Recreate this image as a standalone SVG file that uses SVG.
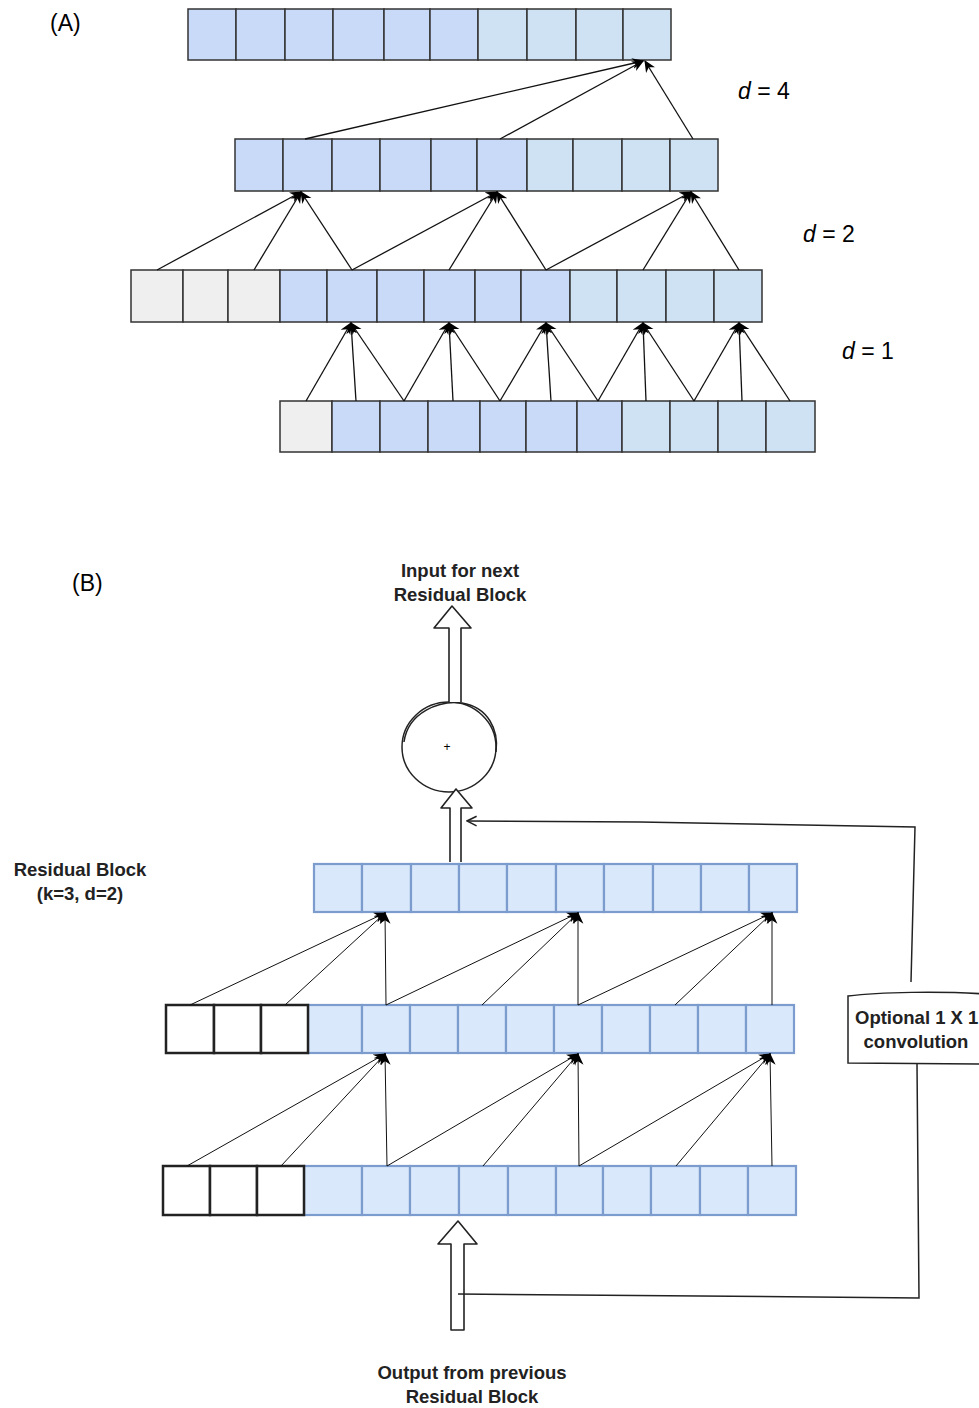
<svg xmlns="http://www.w3.org/2000/svg" width="979" height="1408" viewBox="0 0 979 1408">
<style>
.t{font-family:"Liberation Sans",Arial,sans-serif;fill:#000}
.lbl{font-size:23px}
.b{font-size:18.5px;font-weight:bold;fill:#222}
.dk{fill:#c9daf8;stroke:#333;stroke-width:1.5}
.lt{fill:#cfe2f3;stroke:#333;stroke-width:1.5}
.gr{fill:#efefef;stroke:#333;stroke-width:1.5}
.bb{fill:#dae8fc;stroke:#7b9ccc;stroke-width:2.2}
.wb{fill:#fff;stroke:#222;stroke-width:2.5}
.ca line{stroke:#111;stroke-width:1.3;marker-end:url(#ah)}
.cb line{stroke:#111;stroke-width:1;marker-end:url(#ah)}
.ho{fill:#fff;stroke:#222;stroke-width:1.6;stroke-linejoin:round}
.sk{fill:none;stroke:#222;stroke-width:1.5}
</style>
<defs>
<marker id="ah" markerUnits="userSpaceOnUse" markerWidth="12" markerHeight="12" viewBox="0 0 10 10" refX="9" refY="5" orient="auto">
<path d="M0,0.5 L10,5 L0,9.5 L3,5 z" fill="#000"/>
</marker>
<marker id="oa" markerUnits="userSpaceOnUse" markerWidth="12" markerHeight="12" viewBox="0 0 10 10" refX="9" refY="5" orient="auto">
<path d="M1,1 L9,5 L1,9" fill="none" stroke="#222" stroke-width="1.3"/>
</marker>
</defs>
<rect width="979" height="1408" fill="#fff"/>

<text class="t lbl" x="50" y="31">(A)</text>
<text class="t lbl" x="738" y="99"><tspan font-style="italic">d</tspan> = 4</text>
<text class="t lbl" x="803" y="242"><tspan font-style="italic">d</tspan> = 2</text>
<text class="t lbl" x="842" y="359"><tspan font-style="italic">d</tspan> = 1</text>

<g id="rowA1">
<rect class="dk" x="188" y="9" width="48" height="51"/>
<rect class="dk" x="236" y="9" width="49" height="51"/>
<rect class="dk" x="285" y="9" width="48" height="51"/>
<rect class="dk" x="333" y="9" width="51" height="51"/>
<rect class="dk" x="384" y="9" width="46" height="51"/>
<rect class="dk" x="430" y="9" width="48" height="51"/>
<rect class="lt" x="478" y="9" width="49" height="51"/>
<rect class="lt" x="527" y="9" width="49" height="51"/>
<rect class="lt" x="576" y="9" width="47" height="51"/>
<rect class="lt" x="623" y="9" width="48" height="51"/>
</g>
<g id="rowA2">
<rect class="dk" x="235" y="139" width="48" height="52"/>
<rect class="dk" x="283" y="139" width="49" height="52"/>
<rect class="dk" x="332" y="139" width="48" height="52"/>
<rect class="dk" x="380" y="139" width="51" height="52"/>
<rect class="dk" x="431" y="139" width="46" height="52"/>
<rect class="dk" x="477" y="139" width="50" height="52"/>
<rect class="lt" x="527" y="139" width="46" height="52"/>
<rect class="lt" x="573" y="139" width="49" height="52"/>
<rect class="lt" x="622" y="139" width="48" height="52"/>
<rect class="lt" x="670" y="139" width="48" height="52"/>
</g>
<g id="rowA3">
<rect class="gr" x="131" y="270" width="52" height="52"/>
<rect class="gr" x="183" y="270" width="45" height="52"/>
<rect class="gr" x="228" y="270" width="52" height="52"/>
<rect class="dk" x="280" y="270" width="47" height="52"/>
<rect class="dk" x="327" y="270" width="50" height="52"/>
<rect class="dk" x="377" y="270" width="47" height="52"/>
<rect class="dk" x="424" y="270" width="51" height="52"/>
<rect class="dk" x="475" y="270" width="46" height="52"/>
<rect class="dk" x="521" y="270" width="49" height="52"/>
<rect class="lt" x="570" y="270" width="47" height="52"/>
<rect class="lt" x="617" y="270" width="49" height="52"/>
<rect class="lt" x="666" y="270" width="48" height="52"/>
<rect class="lt" x="714" y="270" width="48" height="52"/>
</g>
<g id="rowA4">
<rect class="gr" x="280" y="401" width="52" height="51"/>
<rect class="dk" x="332" y="401" width="48" height="51"/>
<rect class="dk" x="380" y="401" width="48" height="51"/>
<rect class="dk" x="428" y="401" width="52" height="51"/>
<rect class="dk" x="480" y="401" width="46" height="51"/>
<rect class="dk" x="526" y="401" width="51" height="51"/>
<rect class="dk" x="577" y="401" width="45" height="51"/>
<rect class="lt" x="622" y="401" width="48" height="51"/>
<rect class="lt" x="670" y="401" width="48" height="51"/>
<rect class="lt" x="718" y="401" width="48" height="51"/>
<rect class="lt" x="766" y="401" width="49" height="51"/>
</g>

<g id="connectorsA" class="ca">
<line x1="306" y1="401" x2="351" y2="323"/>
<line x1="356" y1="401" x2="351" y2="323"/>
<line x1="404" y1="401" x2="351" y2="323"/>
<line x1="404" y1="401" x2="449" y2="323"/>
<line x1="453" y1="401" x2="449" y2="323"/>
<line x1="500" y1="401" x2="449" y2="323"/>
<line x1="500" y1="401" x2="546" y2="323"/>
<line x1="551" y1="401" x2="546" y2="323"/>
<line x1="598" y1="401" x2="546" y2="323"/>
<line x1="598" y1="401" x2="643" y2="323"/>
<line x1="646" y1="401" x2="643" y2="323"/>
<line x1="694" y1="401" x2="643" y2="323"/>
<line x1="694" y1="401" x2="739" y2="323"/>
<line x1="742" y1="401" x2="739" y2="323"/>
<line x1="790" y1="401" x2="739" y2="323"/>
<line x1="157" y1="270" x2="301" y2="192"/>
<line x1="254" y1="270" x2="301" y2="192"/>
<line x1="352" y1="270" x2="301" y2="192"/>
<line x1="352" y1="270" x2="497" y2="192"/>
<line x1="449" y1="270" x2="497" y2="192"/>
<line x1="546" y1="270" x2="497" y2="192"/>
<line x1="546" y1="270" x2="691" y2="192"/>
<line x1="643" y1="270" x2="691" y2="192"/>
<line x1="739" y1="270" x2="691" y2="192"/>
<line x1="305" y1="139" x2="643" y2="61"/>
<line x1="500" y1="139" x2="643" y2="61"/>
<line x1="693" y1="139" x2="645" y2="61"/>
</g>

<text class="t lbl" x="72" y="591">(B)</text>
<g id="label-input">
<text class="t b" x="460" y="577" text-anchor="middle">Input for next</text>
<text class="t b" x="460" y="601" text-anchor="middle">Residual Block</text>
</g>
<g id="label-residual">
<text class="t b" x="80" y="876" text-anchor="middle">Residual Block</text>
<text class="t b" x="80" y="900" text-anchor="middle">(k=3, d=2)</text>
</g>
<g id="label-output">
<text class="t b" x="472" y="1379" text-anchor="middle">Output from previous</text>
<text class="t b" x="472" y="1403" text-anchor="middle">Residual Block</text>
</g>

<g id="sum">
<ellipse cx="449" cy="747" rx="47" ry="45" class="sk"/>
<path d="M404,742 C408,712 440,700 462,703 C488,707 499,730 496,752" class="sk" stroke-width="1"/>
<text class="t" x="447" y="751" font-size="12" text-anchor="middle">+</text>
</g>
<g id="arrow-out">
<path class="ho" d="M449,702 L449,628 L434,628 L452,606 L471,628 L461,628 L461,702"/>
</g>
<g id="arrow-in-sum">
<path class="ho" d="M450,862 L450,808 L441,808 L456,789 L472,808 L461,808 L461,862"/>
</g>
<g id="arrow-input">
<path class="ho" d="M451,1330 L451,1244 L438,1244 L458,1221 L477,1244 L464,1244 L464,1330 Z"/>
</g>

<g id="rowB1">
<rect class="bb" x="314" y="864" width="48" height="48"/>
<rect class="bb" x="362" y="864" width="49" height="48"/>
<rect class="bb" x="411" y="864" width="48" height="48"/>
<rect class="bb" x="459" y="864" width="48" height="48"/>
<rect class="bb" x="507" y="864" width="49" height="48"/>
<rect class="bb" x="556" y="864" width="48" height="48"/>
<rect class="bb" x="604" y="864" width="49" height="48"/>
<rect class="bb" x="653" y="864" width="48" height="48"/>
<rect class="bb" x="701" y="864" width="48" height="48"/>
<rect class="bb" x="749" y="864" width="48" height="48"/>
</g>
<g id="rowB2">
<rect class="bb" x="308" y="1005" width="54" height="48"/>
<rect class="bb" x="362" y="1005" width="48" height="48"/>
<rect class="bb" x="410" y="1005" width="48" height="48"/>
<rect class="bb" x="458" y="1005" width="48" height="48"/>
<rect class="bb" x="506" y="1005" width="48" height="48"/>
<rect class="bb" x="554" y="1005" width="48" height="48"/>
<rect class="bb" x="602" y="1005" width="48" height="48"/>
<rect class="bb" x="650" y="1005" width="48" height="48"/>
<rect class="bb" x="698" y="1005" width="48" height="48"/>
<rect class="bb" x="746" y="1005" width="48" height="48"/>
<rect class="wb" x="166" y="1005" width="48" height="48"/>
<rect class="wb" x="214" y="1005" width="47" height="48"/>
<rect class="wb" x="261" y="1005" width="47" height="48"/>
</g>
<g id="rowB3">
<rect class="bb" x="304" y="1166" width="58" height="49"/>
<rect class="bb" x="362" y="1166" width="48" height="49"/>
<rect class="bb" x="410" y="1166" width="49" height="49"/>
<rect class="bb" x="459" y="1166" width="49" height="49"/>
<rect class="bb" x="508" y="1166" width="48" height="49"/>
<rect class="bb" x="556" y="1166" width="47" height="49"/>
<rect class="bb" x="603" y="1166" width="48" height="49"/>
<rect class="bb" x="651" y="1166" width="49" height="49"/>
<rect class="bb" x="700" y="1166" width="48" height="49"/>
<rect class="bb" x="748" y="1166" width="48" height="49"/>
<rect class="wb" x="163" y="1166" width="47" height="49"/>
<rect class="wb" x="210" y="1166" width="47" height="49"/>
<rect class="wb" x="257" y="1166" width="47" height="49"/>
</g>

<g id="conv">
<path class="sk" d="M848,996 C880,992 940,991 985,994 L985,1064 L848,1063 Z"/>
<text class="t b" x="855" y="1024">Optional 1 X 1</text>
<text class="t b" x="916" y="1048" text-anchor="middle">convolution</text>
</g>

<g id="connectorsB" class="cb">
<line x1="190" y1="1005" x2="385" y2="913"/>
<line x1="285" y1="1005" x2="385" y2="913"/>
<line x1="386" y1="1005" x2="385" y2="913"/>
<line x1="386" y1="1005" x2="578" y2="913"/>
<line x1="482" y1="1005" x2="578" y2="913"/>
<line x1="578" y1="1005" x2="578" y2="913"/>
<line x1="578" y1="1005" x2="772" y2="913"/>
<line x1="675" y1="1005" x2="772" y2="913"/>
<line x1="772" y1="1005" x2="772" y2="913"/>
<line x1="187" y1="1166" x2="385" y2="1054"/>
<line x1="281" y1="1166" x2="385" y2="1054"/>
<line x1="387" y1="1166" x2="385" y2="1054"/>
<line x1="387" y1="1166" x2="578" y2="1054"/>
<line x1="483" y1="1166" x2="578" y2="1054"/>
<line x1="579" y1="1166" x2="578" y2="1054"/>
<line x1="579" y1="1166" x2="770" y2="1054"/>
<line x1="676" y1="1166" x2="770" y2="1054"/>
<line x1="772" y1="1166" x2="770" y2="1054"/>
</g>
<g id="skip">
<path class="sk" d="M911,982 L915,827 L640,822 L467,821" marker-end="url(#oa)"/>
<path class="sk" d="M917,1064 L919,1298 L700,1296 L458,1294"/>
</g>
</svg>
